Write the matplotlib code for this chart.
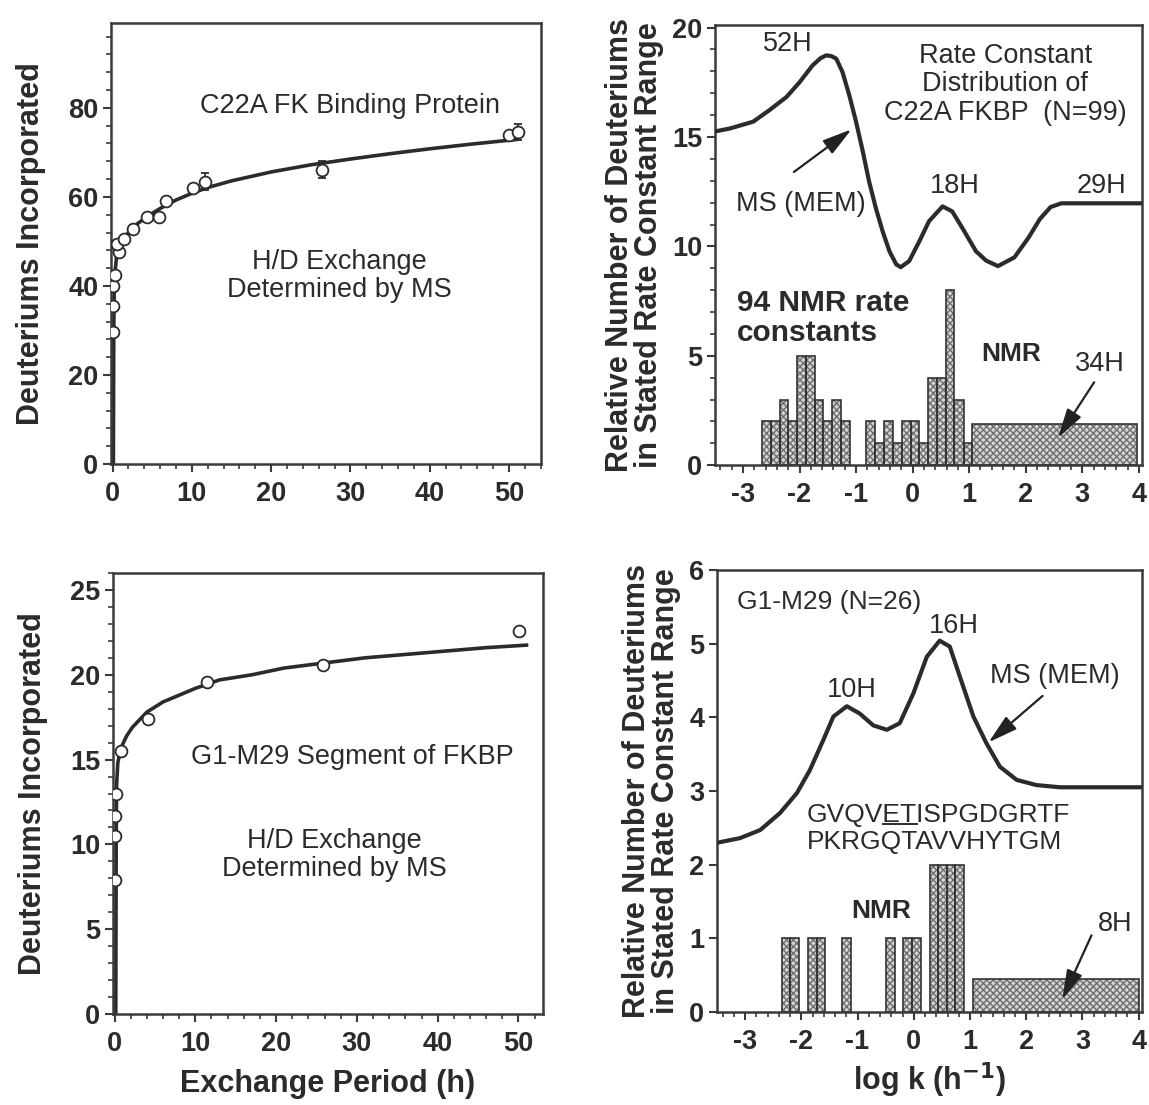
import numpy as np
import matplotlib
matplotlib.use('Agg')
import matplotlib.pyplot as plt
from matplotlib.ticker import MultipleLocator

plt.rcParams['font.family'] = ['Liberation Sans', 'DejaVu Sans']
plt.rcParams['axes.unicode_minus'] = False

INK = '#2b2b2b'

# ---- H/D exchange, whole C22A FKBP (top left) ----
fkbp_t = [0.02, 0.08, 0.03, 0.3, 0.8, 0.6, 1.5, 2.6, 4.3, 5.9, 6.7, 10.1, 11.7, 26.4, 50.0, 51.1]
fkbp_d = [29.6, 35.4, 40.1, 42.5, 47.6, 49.4, 50.6, 52.9, 55.5, 55.5, 59.1, 62.1, 63.4, 66.1, 73.9, 74.5]
fkbp_err = [0, 0, 0, 0, 0, 0, 0, 0, 0, 0, 0, 0, 1.9, 1.9, 0, 1.8]
fkbp_fit_t = [0.1, 0.15, 0.2, 0.3, 0.5, 0.8, 1.2, 2, 3, 4, 5, 6, 8, 10, 12, 15, 20, 25, 30, 35, 40, 45, 51]
fkbp_fit_d = [0, 30, 38, 43, 46.5, 48.5, 50, 52, 53.8, 55.1, 56.3, 57.4, 59.3, 60.8, 62.1, 63.6,
              65.6, 67.2, 68.5, 69.7, 70.8, 71.8, 72.9]

# ---- H/D exchange, G1-M29 segment (bottom left) ----
seg_t = [0.0, 0.02, 0.04, 0.12, 0.74, 4.2, 11.4, 25.8, 50.1]
seg_d = [7.9, 10.5, 11.7, 13.0, 15.5, 17.4, 19.6, 20.6, 22.6]
seg_fit_t = [0.15, 0.2, 0.25, 0.4, 0.7, 1.0, 1.5, 2.2, 3, 4, 6, 8, 10, 13, 17, 21, 26, 31, 36, 41, 46, 51]
seg_fit_d = [0, 10, 13.5, 14.8, 15.5, 15.9, 16.4, 16.9, 17.3, 17.8, 18.4, 18.8, 19.2, 19.7, 20.0,
             20.4, 20.7, 21.0, 21.2, 21.4, 21.6, 21.75]

# ---- NMR rate constant histograms (shared log k bins) ----
logk_bins = [-2.67, -2.51, -2.35, -2.2, -2.04, -1.89, -1.73, -1.58, -1.43, -1.27, -1.11, -0.82,
             -0.66, -0.5, -0.34, -0.19, -0.03, 0.12, 0.28, 0.43, 0.59, 0.74, 0.9, 1.05]
nmr_full = [2, 2, 3, 2, 5, 5, 3, 2, 3, 2, 0, 2, 1, 2, 1, 2, 2, 1, 4, 4, 8, 3, 1]
nmr_seg = [0, 0, 1, 1, 0, 1, 1, 0, 0, 1, 0, 0, 0, 1, 0, 1, 1, 0, 2, 2, 2, 2, 0]
# slow-exchanging remainder spread over log k > 1
tail_full = (1.05, 3.96, 1.9)
tail_seg = (1.05, 4.0, 0.45)

# ---- MEM rate constant distributions ----
mem_full_x = [-3.5, -3.23, -2.82, -2.53, -2.23, -2.0, -1.77, -1.63, -1.53, -1.44, -1.35, -1.24,
              -1.12, -1.0, -0.88, -0.77, -0.65, -0.53, -0.41, -0.29, -0.21, -0.06, 0.12, 0.29,
              0.53, 0.7, 0.88, 1.12, 1.3, 1.51, 1.8, 2.05, 2.25, 2.44, 2.63, 4.05]
mem_full_y = [15.25, 15.39, 15.7, 16.23, 16.83, 17.5, 18.27, 18.6, 18.73, 18.7, 18.58, 17.97,
              16.91, 15.7, 14.33, 12.97, 11.75, 10.69, 9.78, 9.18, 9.05, 9.33, 10.24, 11.15,
              11.83, 11.6, 10.84, 9.78, 9.35, 9.1, 9.5, 10.4, 11.25, 11.8, 11.97, 11.97]
mem_seg_x = [-3.48, -3.09, -2.73, -2.38, -2.08, -1.85, -1.61, -1.43, -1.19, -0.96, -0.72, -0.48,
             -0.25, -0.01, 0.23, 0.46, 0.64, 0.82, 1.06, 1.29, 1.53, 1.83, 2.18, 2.6, 4.06]
mem_seg_y = [2.3, 2.36, 2.47, 2.70, 2.97, 3.28, 3.69, 4.01, 4.15, 4.05, 3.89, 3.83,
             3.92, 4.32, 4.82, 5.04, 4.96, 4.55, 4.01, 3.65, 3.33, 3.15, 3.08, 3.05, 3.05]

seq_line1 = 'GVQVETISPGDGRTF'
seq_line2 = 'PKRGQTAVVHYTGM'


def style_axes(ax):
    for s in ax.spines.values():
        s.set_linewidth(1.8)
        s.set_color('#3a3a3a')
    ax.tick_params(which='major', direction='out', length=6, width=1.5, color='#3a3a3a',
                   labelsize=19.5, pad=3, labelcolor=INK)
    ax.tick_params(axis='x', which='major', pad=6)
    ax.tick_params(which='minor', direction='out', length=3.5, width=1.2, color='#3a3a3a')
    ax.tick_params(top=False, right=False, which='both')
    for lab in ax.get_xticklabels() + ax.get_yticklabels():
        lab.set_fontweight('bold')


def arrow(ax, tail, tip):
    ax.annotate('', xy=tip, xytext=tail,
                arrowprops=dict(arrowstyle='-|>,head_length=0.9,head_width=0.25',
                                color='#222222', lw=1.6, mutation_scale=20, shrinkA=0, shrinkB=0))


def nmr_bars(ax, heights, tail):
    left = np.array(logk_bins[:-1])
    width = np.diff(logk_bins)
    h = np.array(heights, dtype=float)
    keep = h > 0
    lefts = list(left[keep]) + [tail[0]]
    widths = list(width[keep]) + [tail[1] - tail[0]]
    hs = list(h[keep]) + [tail[2]]
    ax.bar(lefts, hs, widths, align='edge', facecolor='#d4d4d4', edgecolor='#6f6f6f',
           hatch='xxxxx', linewidth=0, zorder=1)
    ax.bar(lefts, hs, widths, align='edge', fill=False, edgecolor='#333333', linewidth=1.2, zorder=2)


fig = plt.figure(figsize=(11.49, 11.05), dpi=100)
ax_tl = fig.add_axes([0.0966, 0.580, 0.374, 0.399])
ax_tr = fig.add_axes([0.622, 0.579, 0.3716, 0.398])
ax_bl = fig.add_axes([0.0983, 0.0824, 0.374, 0.399])
ax_br = fig.add_axes([0.624, 0.0842, 0.370, 0.400])

mk = dict(marker='o', ms=8.5, mfc='white', mec=INK, mew=1.3, ls='none', zorder=4)
txt = dict(color=INK, fontsize=19.5, ha='center', va='center')
lab = dict(fontsize=22, fontweight='bold', color=INK)

# top left
ax = ax_tl
ax.plot(fkbp_fit_t, fkbp_fit_d, color=INK, lw=2.6, zorder=2)
ax.errorbar(fkbp_t, fkbp_d, yerr=fkbp_err, ecolor=INK, elinewidth=1.2, capsize=3, **mk)
ax.set_xlim(-0.2, 54)
ax.set_ylim(0, 99)
ax.xaxis.set_major_locator(MultipleLocator(10))
ax.xaxis.set_minor_locator(MultipleLocator(2))
ax.yaxis.set_major_locator(MultipleLocator(20))
ax.yaxis.set_minor_locator(MultipleLocator(4))
ax.set_ylabel('Deuteriums Incorporated', labelpad=16, **lab)
ax.text(29.9, 80.5, 'C22A FK Binding Protein', **txt)
ax.text(28.6, 42.3, 'H/D Exchange\nDetermined by MS', linespacing=1.1, **txt)
style_axes(ax)

# bottom left
ax = ax_bl
ax.plot(seg_fit_t, seg_fit_d, color=INK, lw=2.6, zorder=2)
ax.plot(seg_t, seg_d, **mk)
ax.set_xlim(-0.2, 53)
ax.set_ylim(0, 26)
ax.xaxis.set_major_locator(MultipleLocator(10))
ax.xaxis.set_minor_locator(MultipleLocator(2))
ax.yaxis.set_major_locator(MultipleLocator(5))
ax.yaxis.set_minor_locator(MultipleLocator(1))
ax.set_ylabel('Deuteriums Incorporated', labelpad=16, **lab)
ax.set_xlabel('Exchange Period (h)', labelpad=9, **lab)
ax.text(29.4, 15.13, 'G1-M29 Segment of FKBP', **txt)
ax.text(27.2, 9.37, 'H/D Exchange\nDetermined by MS', linespacing=1.1, **txt)
style_axes(ax)

# top right
ax = ax_tr
nmr_bars(ax, nmr_full, tail_full)
ax.plot(mem_full_x, mem_full_y, color=INK, lw=3.0, zorder=3)
ax.set_xlim(-3.5, 4.05)
ax.set_ylim(0, 20.1)
ax.xaxis.set_major_locator(MultipleLocator(1))
ax.xaxis.set_minor_locator(MultipleLocator(0.2))
ax.yaxis.set_major_locator(MultipleLocator(5))
ax.yaxis.set_minor_locator(MultipleLocator(1))
ax.set_ylabel('Relative Number of Deuteriums\nin Stated Rate Constant Range', labelpad=6,
              linespacing=0.95, **lab)
ax.text(-2.2, 19.24, '52H', **txt)
ax.text(1.64, 17.4, 'Rate Constant\nDistribution of\nC22A FKBP  (N=99)', linespacing=1.12, **txt)
ax.text(-1.97, 11.93, 'MS (MEM)', **txt)
arrow(ax, (-2.1, 13.4), (-1.08, 15.35))
ax.text(0.75, 12.78, '18H', **txt)
ax.text(3.34, 12.78, '29H', **txt)
ax.text(-3.1, 6.71, '94 NMR rate\nconstants', color=INK, fontsize=21.5, fontweight='bold',
        ha='left', va='center', linespacing=1.1)
ax.text(1.74, 5.1, 'NMR', color=INK, fontsize=19, fontweight='bold', ha='center', va='center')
ax.text(3.31, 4.63, '34H', **txt)
arrow(ax, (3.21, 3.79), (2.57, 1.25))
style_axes(ax)

# bottom right
ax = ax_br
nmr_bars(ax, nmr_seg, tail_seg)
ax.plot(mem_seg_x, mem_seg_y, color=INK, lw=3.0, zorder=3)
ax.set_xlim(-3.5, 4.06)
ax.set_ylim(0, 6)
ax.xaxis.set_major_locator(MultipleLocator(1))
ax.xaxis.set_minor_locator(MultipleLocator(0.2))
ax.yaxis.set_major_locator(MultipleLocator(1))
ax.set_ylabel('Relative Number of Deuteriums\nin Stated Rate Constant Range', labelpad=6,
              linespacing=0.95, **lab)
ax.set_xlabel('log k (h$^{\\mathbf{-1}}$)', labelpad=4, **lab)
ax.text(-3.15, 5.56, 'G1-M29 (N=26)', color=INK, fontsize=19, ha='left', va='center')
ax.text(0.71, 5.24, '16H', **txt)
ax.text(-1.1, 4.37, '10H', **txt)
ax.text(2.51, 4.56, 'MS (MEM)', **txt)
arrow(ax, (2.29, 4.29), (1.33, 3.66))
ax.text(-0.58, 1.37, 'NMR', color=INK, fontsize=19, fontweight='bold', ha='center', va='center')
ax.text(3.58, 1.2, '8H', **txt)
arrow(ax, (3.16, 1.04), (2.64, 0.17))
seq_kw = dict(color=INK, fontsize=19, ha='left', va='center')
ax.text(-1.9, 2.67, seq_line1, **seq_kw)
ax.text(-1.9, 2.31, seq_line2, **seq_kw)
style_axes(ax)

# underline the E-T residues of the sequence
fig.canvas.draw()
rend = fig.canvas.get_renderer()
pre_a = ax.text(-1.9, 2.67, seq_line1[:4], alpha=0, **seq_kw)
pre_b = ax.text(-1.9, 2.67, seq_line1[:6], alpha=0, **seq_kw)
bb_a = pre_a.get_window_extent(rend)
bb_b = pre_b.get_window_extent(rend)
inv = ax.transData.inverted()
(ux0, uy), (ux1, _) = inv.transform([(bb_a.x1, bb_a.y0 + 3), (bb_b.x1, bb_a.y0 + 3)])
ax.plot([ux0, ux1], [uy, uy], color=INK, lw=1.4)
pre_a.remove()
pre_b.remove()

fig.savefig('out.png', dpi=100)
